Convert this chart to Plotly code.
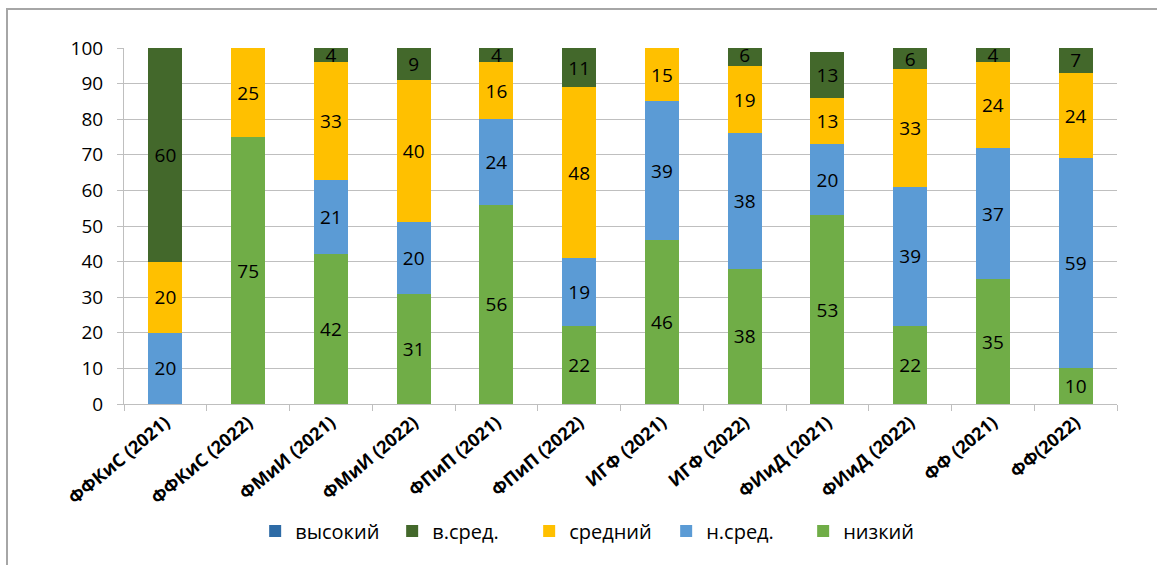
import plotly.graph_objects as go

# Faculties / years on the x axis
categories = [
    "ФФКиС (2021)", "ФФКиС (2022)", "ФМиИ (2021)", "ФМиИ (2022)",
    "ФПиП (2021)", "ФПиП (2022)", "ИГФ (2021)", "ИГФ (2022)",
    "ФИиД (2021)", "ФИиД (2022)", "ФФ (2021)", "ФФ(2022)",
]

# Share of students at each level, %
nizkiy = [0, 75, 42, 31, 56, 22, 46, 38, 53, 22, 35, 10]
n_sred = [20, 0, 21, 20, 24, 19, 39, 38, 20, 39, 37, 59]
sredniy = [20, 25, 33, 40, 16, 48, 15, 19, 13, 33, 24, 24]
v_sred = [60, 0, 4, 9, 4, 11, 0, 6, 13, 6, 4, 7]
vysokiy = [0, 0, 0, 0, 0, 0, 0, 0, 0, 0, 0, 0]

series = [
    ("низкий", nizkiy, "#70AD47"),
    ("н.сред.", n_sred, "#5B9BD5"),
    ("средний", sredniy, "#FFC000"),
    ("в.сред.", v_sred, "#43682B"),
    ("высокий", vysokiy, "#2E6BA6"),
]

FONT = "Open Sans"

fig = go.Figure()
for name, vals, color in series:
    fig.add_trace(go.Bar(
        x=categories,
        y=vals,
        name=name,
        marker=dict(color=color, line=dict(width=0)),
        text=[str(v) if v else "" for v in vals],
        textposition="inside",
        insidetextanchor="middle",
        textangle=0,
        constraintext="none",
        textfont=dict(family=FONT, size=19, color="#000000"),
        cliponaxis=True,
    ))

W, H = 1157, 565
L, R, T, B = 124, 40, 48, 161
pw, ph = W - L - R, H - T - B

# Outer chart frame (top and left edges visible)
fig.add_shape(
    type="rect", xref="paper", yref="paper",
    x0=(7 - L) / pw, x1=1.3, y0=-1.0, y1=1 + (T - 9) / ph,
    line=dict(color="#A6A6A6", width=2), fillcolor="rgba(0,0,0,0)",
    layer="below",
)

fig.update_layout(
    width=W, height=H,
    margin=dict(l=L, r=R, t=T, b=B),
    barmode="stack",
    bargap=0.59,
    plot_bgcolor="white",
    paper_bgcolor="white",
    font=dict(family=FONT, color="#000000"),
    showlegend=True,
    legend=dict(
        orientation="h",
        traceorder="reversed",
        x=0.477, xanchor="center",
        y=(404 - 531) / ph, yanchor="middle",
        font=dict(family=FONT, size=20, color="#000000"),
        itemwidth=30,
        entrywidth=92,
        entrywidthmode="pixels",
        itemsizing="constant",
        bgcolor="rgba(0,0,0,0)",
    ),
    xaxis=dict(
        type="category",
        tickangle=-40,
        tickfont=dict(family=FONT, size=18, color="#000000", weight="bold"),
        showgrid=False,
        showline=True,
        linecolor="#BFBFBF",
        linewidth=1,
        ticks="outside",
        tickson="boundaries",
        ticklen=6,
        tickcolor="#BFBFBF",
        range=[-0.5, 11.5],
    ),
    yaxis=dict(
        range=[0, 100],
        dtick=10,
        tickfont=dict(family=FONT, size=19, color="#000000"),
        ticklabelstandoff=10,
        showgrid=True,
        gridcolor="#BFBFBF",
        gridwidth=1,
        showline=True,
        linecolor="#BFBFBF",
        linewidth=1,
        ticks="outside",
        ticklen=6,
        tickcolor="#BFBFBF",
        zeroline=False,
    ),
)

fig.write_html("out.html")
